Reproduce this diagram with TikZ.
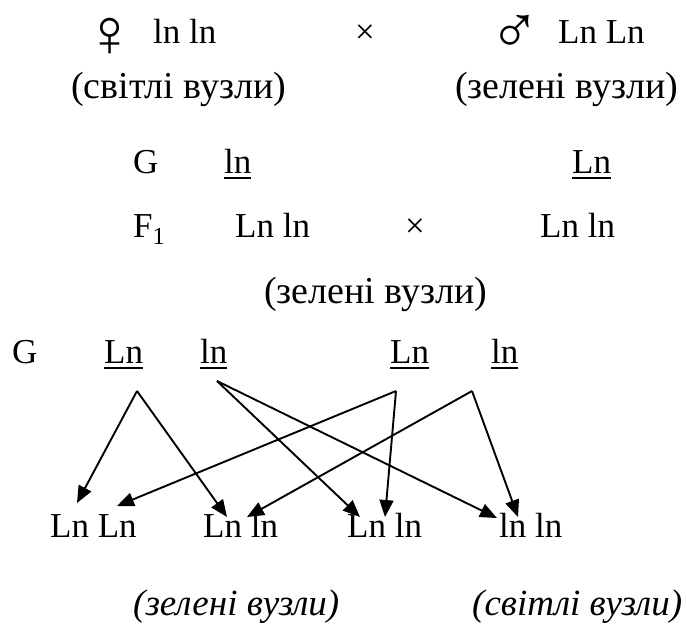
\documentclass[tikz,border=0pt]{standalone}
\usepackage{fontspec}
\setmainfont{Liberation Serif}
\usetikzlibrary{arrows.meta}
\newcommand\ulbox[1]{\setbox0\hbox{#1}\rlap{\rule[-6pt]{\wd0}{2pt}}\box0}
\begin{document}
\begin{tikzpicture}[x=1pt,y=-1pt,
  txt/.style={inner sep=0pt,anchor=base west,font=\fontsize{35}{42}\selectfont},
  cyr/.style={inner sep=0pt,anchor=base west,font=\fontsize{38}{44}\selectfont},
  ctxt/.style={inner sep=0pt,anchor=base,font=\fontsize{35}{42}\selectfont},
  sym/.style={inner sep=0pt,anchor=base,font=\fontsize{68}{74}\selectfont},
  itxt/.style={inner sep=0pt,anchor=base west,font=\fontsize{37}{42}\selectfont\itshape},
  arr/.style={line width=1.9pt,-{Triangle[length=17pt,width=14pt]}}]
\useasboundingbox (0,0) rectangle (687,630);
% row 1
\node[sym] (fem) at (110,56) {♀};
\node[txt] (p1) at (153,43) {ln ln};
\node[ctxt] (cross1) at (365,43) {×};
\node[sym] (male) at (515,53) {♂};
\node[txt] (p2) at (558,43) {Ln Ln};
% row 2
\node[cyr] (ph1) at (71,98) {(світлі вузли)};
\node[cyr] (ph2) at (455,98) {(зелені вузли)};
% row 3
\node[txt] (g1) at (133,173) {G};
\node[txt] (g1a) at (224,173) {\ulbox{ln}};
\node[txt] (g1b) at (572,173) {\ulbox{Ln}};
% row 4
\node[txt] (f1) at (133,237) {F\textsubscript{1}};
\node[txt] (f1a) at (235,237) {Ln ln};
\node[ctxt] (cross2) at (415,237) {×};
\node[txt] (f1b) at (540,237) {Ln ln};
% row 5
\node[cyr] (ph3) at (264,303) {(зелені вузли)};
% row 6
\node[txt] (g2) at (12,363) {G};
\node[txt] (g2a) at (104,363) {\ulbox{Ln}};
\node[txt] (g2b) at (200,363) {\ulbox{ln}};
\node[txt] (g2c) at (390,363) {\ulbox{Ln}};
\node[txt] (g2d) at (491,363) {\ulbox{ln}};
% offspring
\node[txt] (o1) at (50,537) {Ln Ln};
\node[txt] (o2) at (203,537) {Ln ln};
\node[txt] (o3) at (347,537) {Ln ln};
\node[txt] (o4) at (499,537) {ln ln};
% phenotypes
\node[itxt] (ph4) at (133,615) {(зелені вузли)};
\node[itxt] (ph5) at (472,615) {(світлі вузли)};
% arrow end points
\coordinate (sa) at (137,391);
\coordinate (sb) at (217,381);
\coordinate (sc) at (396,391);
\coordinate (sd) at (472,391);
\coordinate (e1a) at (77,503);
\coordinate (e1b) at (117,506);
\coordinate (e2a) at (227,517);
\coordinate (e2b) at (247,517);
\coordinate (e3a) at (360,517);
\coordinate (e3b) at (385,517);
\coordinate (e4a) at (497,518);
\coordinate (e4b) at (518,517);
\draw[arr] (sa) -- (e1a);
\draw[arr] (sa) -- (e2a);
\draw[arr] (sb) -- (e3a);
\draw[arr] (sb) -- (e4a);
\draw[arr] (sc) -- (e1b);
\draw[arr] (sc) -- (e3b);
\draw[arr] (sd) -- (e2b);
\draw[arr] (sd) -- (e4b);
\end{tikzpicture}
\end{document}
